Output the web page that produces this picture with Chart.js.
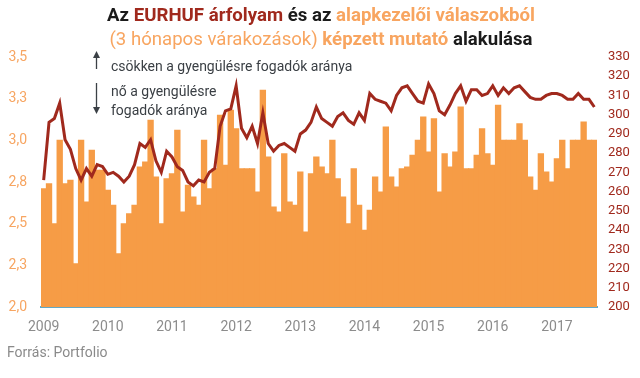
<!DOCTYPE html>
<html lang="hu">
<head>
    <meta charset="UTF-8">
    <title>EURHUF és alapkezelői várakozások</title>
    <script src="https://cdn.jsdelivr.net/npm/chart.js"></script>
    <style>
        body {
            margin: 0;
            padding: 0;
            background: #ffffff;
        }

        .chart-box {
            position: relative;
            width: 640px;
            height: 378px;
        }
    </style>
</head>
<body>
    <div class="chart-box">
        <canvas id="chart"></canvas>
    </div>

    <script>
        // havi adatok, 2009 január - 2017 augusztus
        const years = ['2009', '2010', '2011', '2012', '2013', '2014', '2015', '2016', '2017'];
        const lastYearMonths = 8;

        // alapkezelői mutató (bal tengely)
        const indexValues = [
            2.71, 2.74, 2.50, 3.00, 2.74, 2.76, 2.26, 3.00, 2.63, 2.94, 2.82, 2.82,
            2.70, 2.61, 2.32, 2.50, 2.56, 2.61, 2.84, 2.87, 3.12, 2.78, 2.50, 2.77,
            2.80, 3.06, 2.57, 2.73, 2.66, 2.61, 3.00, 2.71, 2.83, 3.15, 2.85, 3.18,
            3.07, 2.83, 2.83, 2.83, 2.69, 3.30, 2.90, 2.60, 2.57, 2.92, 2.63, 2.61,
            2.81, 2.45, 2.80, 2.90, 2.84, 2.80, 3.00, 2.77, 2.66, 2.50, 2.83, 2.61,
            2.46, 2.58, 2.78, 2.69, 3.08, 2.78, 2.72, 2.83, 2.84, 2.91, 3.00, 3.14,
            2.93, 3.13, 2.69, 2.92, 2.84, 2.93, 3.20, 2.83, 2.83, 2.91, 3.07, 2.92,
            2.85, 3.21, 3.00, 3.00, 3.00, 3.10, 3.00, 2.78, 2.70, 2.92, 2.81, 2.75,
            2.89, 3.00, 2.83, 3.00, 3.00, 3.11, 3.00, 3.00
        ];

        // EURHUF árfolyam (jobb tengely)
        const eurhufValues = [
            266, 296, 298, 306, 287, 282, 272, 266, 272, 268, 274, 273,
            269, 270, 268, 265, 268, 274, 285, 283, 287, 276, 270, 281,
            278, 273, 271, 265, 263, 266, 265, 270, 272, 294, 302, 303,
            315, 293, 288, 294, 285, 301, 285, 281, 284, 285, 283, 281,
            290, 292, 296, 304, 298, 296, 294, 299, 301, 297, 295, 301,
            297, 311, 308, 307, 306, 302, 310, 314, 315, 311, 307, 306,
            316, 311, 302, 300, 305, 311, 315, 307, 313, 313, 310, 311,
            315, 310, 314, 311, 314, 315, 312, 309, 308, 308, 310, 311,
            311, 310, 308, 308, 311, 308, 308, 304
        ];

        const months = [];
        years.forEach((y, i) => {
            const n = i === years.length - 1 ? lastYearMonths : 12;
            for (let m = 1; m <= n; m++) {
                months.push(y + '-' + String(m).padStart(2, '0'));
            }
        });

        const ORANGE = '#f69c46';
        const LIGHT_ORANGE = '#f8a560';
        const DARK_RED = '#a0291d';

        const textPlugin = {
            id: 'texts',
            afterDraw(chart) {
                const ctx = chart.ctx;
                ctx.save();

                // cím, több színnel
                const drawParts = (parts, y, targetWidth) => {
                    let total = 0;
                    parts.forEach(p => {
                        ctx.font = p.font;
                        total += ctx.measureText(p.text).width;
                    });
                    const sx = targetWidth / total;
                    ctx.save();
                    ctx.translate(321 - targetWidth / 2, y);
                    ctx.scale(sx, 1);
                    let x = 0;
                    ctx.textBaseline = 'middle';
                    ctx.textAlign = 'left';
                    parts.forEach(p => {
                        ctx.font = p.font;
                        ctx.fillStyle = p.color;
                        ctx.fillText(p.text, x, 0);
                        x += ctx.measureText(p.text).width;
                    });
                    ctx.restore();
                };
                const B = 'bold 19px Roboto';
                const R = '19px Roboto';
                drawParts([
                    { text: 'Az ', font: B, color: '#1b1b1b' },
                    { text: 'EURHUF árfolyam', font: B, color: DARK_RED },
                    { text: ' és az ', font: B, color: '#1b1b1b' },
                    { text: 'alapkezelői válaszokból', font: B, color: LIGHT_ORANGE }
                ], 16, 428);
                drawParts([
                    { text: '(3 hónapos várakozások) ', font: R, color: LIGHT_ORANGE },
                    { text: 'képzett mutató', font: B, color: LIGHT_ORANGE },
                    { text: ' alakulása', font: B, color: '#1b1b1b' }
                ], 40, 423);

                // nyilak
                ctx.strokeStyle = '#3b4046';
                ctx.fillStyle = '#3b4046';
                ctx.lineWidth = 1.3;
                ctx.beginPath();
                ctx.moveTo(96.5, 56);
                ctx.lineTo(96.5, 69);
                ctx.moveTo(96.5, 83);
                ctx.lineTo(96.5, 108);
                ctx.stroke();
                ctx.beginPath();
                ctx.moveTo(96.5, 51);
                ctx.lineTo(93, 58);
                ctx.lineTo(100, 58);
                ctx.closePath();
                ctx.fill();
                ctx.beginPath();
                ctx.moveTo(96.5, 114);
                ctx.lineTo(93, 107);
                ctx.lineTo(100, 107);
                ctx.closePath();
                ctx.fill();

                ctx.font = '14px Roboto';
                ctx.fillStyle = '#3a3f44';
                ctx.textAlign = 'left';
                ctx.textBaseline = 'middle';
                ctx.fillText('csökken a gyengülésre fogadók aránya', 111, 67);
                ctx.fillText('nő a gyengülésre', 111, 92);
                ctx.fillText('fogadók aránya', 111, 111);

                // forrás
                ctx.font = '14px Roboto';
                ctx.fillStyle = '#8a8a8a';
                ctx.fillText('Forrás: Portfolio', 7, 353);

                ctx.restore();
            }
        };

        new Chart(document.getElementById('chart'), {
            data: {
                labels: months,
                datasets: [
                    {
                        type: 'line',
                        label: 'EURHUF',
                        data: eurhufValues,
                        yAxisID: 'yRight',
                        borderColor: DARK_RED,
                        borderWidth: 3,
                        pointRadius: 0,
                        tension: 0,
                        order: 0
                    },
                    {
                        type: 'bar',
                        label: 'Mutató',
                        data: indexValues,
                        yAxisID: 'yLeft',
                        backgroundColor: ORANGE,
                        borderWidth: 0,
                        inflateAmount: 0.5,
                        barPercentage: 1,
                        categoryPercentage: 1,
                        order: 1
                    }
                ]
            },
            options: {
                responsive: true,
                maintainAspectRatio: false,
                animation: false,
                layout: {
                    padding: { top: 57, left: 0, right: 0, bottom: 0 }
                },
                plugins: {
                    legend: { display: false },
                    tooltip: { enabled: false }
                },
                scales: {
                    x: {
                        grid: { display: false, drawTicks: false },
                        border: { display: true, color: '#62a9c6', width: 2 },
                        ticks: {
                            autoSkip: false,
                            maxRotation: 0,
                            padding: 12,
                            color: '#8c8c8c',
                            font: { family: 'Roboto', size: 14 },
                            callback: function (value, index) {
                                const m = months[index];
                                return m.endsWith('-01') ? m.slice(0, 4) : null;
                            }
                        },
                        afterFit: (scale) => { scale.height = 71; }
                    },
                    yLeft: {
                        position: 'left',
                        min: 2,
                        max: 3.5,
                        grid: { display: false, drawTicks: false },
                        border: { display: false },
                        ticks: {
                            stepSize: 0.25,
                            padding: 14,
                            color: '#f7a561',
                            font: { family: 'Roboto', size: 14 },
                            callback: (v) => v.toFixed(1).replace('.', ',')
                        },
                        afterFit: (scale) => { scale.width = 41; }
                    },
                    yRight: {
                        position: 'right',
                        min: 200,
                        max: 330,
                        grid: { display: false, drawTicks: false },
                        border: { display: false },
                        ticks: {
                            stepSize: 10,
                            padding: 11,
                            color: '#a0291d',
                            font: { family: 'Roboto', size: 13 }
                        },
                        afterFit: (scale) => { scale.width = 43; }
                    }
                }
            },
            plugins: [textPlugin]
        });
    </script>
</body>
</html>
